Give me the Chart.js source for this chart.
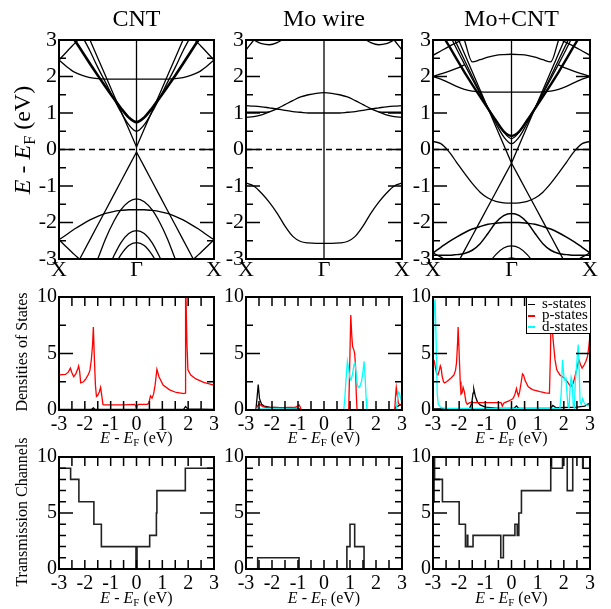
<!DOCTYPE html>
<html>
<head>
<meta charset="utf-8">
<script src="https://cdn.jsdelivr.net/npm/chart.js@4.4.1/dist/chart.umd.min.js"></script>
<style>
  html, body { margin:0; padding:0; background:#fff; }
  body { width:611px; height:609px; position:relative; overflow:hidden;
         font-family:'Liberation Serif','Times New Roman',serif; color:#000; }
  canvas { position:absolute; }
  .t { position:absolute; white-space:nowrap; line-height:1; }
  .c { transform:translateX(-50%); }
  .r { transform:translate(-50%,-50%) rotate(-90deg); }
  sub { font-size:0.68em; vertical-align:-0.28em; line-height:0; }
  .lg { position:absolute; left:526px; top:298px; width:63px; height:35px; background:#fff;
        border-left:1px solid #000; border-bottom:1px solid #000; }
  .lg .ln { position:absolute; left:1px; width:7px; height:1.6px; }
  .lg .tx { position:absolute; left:15px; font-size:15px; line-height:12px; white-space:nowrap; }
</style>
</head>
<body>
<script>
// ---------------- data ----------------
const panelTitles = ['CNT', 'Mo wire', 'Mo+CNT'];
const seriesNames = ['s-states', 'p-states', 'd-states'];
const kGrid = [0,0.05,0.1,0.15,0.2,0.25,0.3,0.35,0.4,0.45,0.5,0.55,0.6,0.65,0.7,0.75,0.8,0.85,0.9,0.95,1];
const bandTickPos = [0, 0.5, 1];
const bandTickLabels = ['X', 'Γ', 'X'];
const bandYTicks = [-3,-2,-1,0,1,2,3];
const energyTicks = [-3,-2,-1,0,1,2,3];
const countTicks = [0,5,10];

// CNT band energies (eV) on kGrid
const cntXUp     = [2.45,2.68,2.9,3.12,3.35,null,null,null,null,null,null,null,null,null,null,null,3.35,3.12,2.9,2.68,2.45];
const cntFlat    = [2.45,2.27,2.12,2.03,1.97,1.94,1.93,1.93,1.93,1.93,1.93,1.93,1.93,1.93,1.93,1.94,1.97,2.03,2.12,2.27,2.45];
const cntThick   = [null,3.33,3.0,2.68,2.35,2.03,1.72,1.42,1.13,0.88,0.75,0.88,1.13,1.42,1.72,2.03,2.35,2.68,3.0,3.33,null];
const cntThin    = [null,null,null,3.1,2.7,2.25,1.84,1.42,1.02,0.68,0.5,0.68,1.02,1.42,1.84,2.25,2.7,3.1,null,null,null];
const cntDiracUp = [null,null,null,3.49,3.0,2.51,2.02,1.53,1.05,0.56,0.07,0.56,1.05,1.53,2.02,2.51,3.0,3.49,null,null,null];
const cntDiracDn = [null,null,-3.27,-2.87,-2.47,-2.07,-1.67,-1.27,-0.87,-0.47,-0.07,-0.47,-0.87,-1.27,-1.67,-2.07,-2.47,-2.87,-3.27,null,null];
const cntV1      = [null,null,null,null,-3.5,-3.0,-2.45,-2.0,-1.65,-1.43,-1.35,-1.43,-1.65,-2.0,-2.45,-3.0,-3.5,null,null,null,null];
const cntV2      = [null,null,null,null,null,null,-3.4,-2.95,-2.55,-2.3,-2.22,-2.3,-2.55,-2.95,-3.4,null,null,null,null,null,null];
const cntV3      = [null,null,null,null,null,null,null,-3.25,-2.88,-2.63,-2.55,-2.63,-2.88,-3.25,null,null,null,null,null,null,null];
const cntArc     = [-2.47,-2.33,-2.18,-2.05,-1.93,-1.83,-1.75,-1.7,-1.67,-1.65,-1.65,-1.65,-1.67,-1.7,-1.75,-1.83,-1.93,-2.05,-2.18,-2.33,-2.47];
const cntXDn     = [-2.47,-2.68,-2.88,-3.08,-3.3,null,null,null,null,null,null,null,null,null,null,null,-3.3,-3.08,-2.88,-2.68,-2.47];

// Mo wire bands
const moLow = [-0.92,-1.0,-1.2,-1.45,-1.75,-2.1,-2.38,-2.52,-2.56,-2.57,-2.57,-2.57,-2.56,-2.52,-2.38,-2.1,-1.75,-1.45,-1.2,-1.0,-0.92];
const moA   = [0.88,0.9,0.95,1.03,1.12,1.23,1.34,1.44,1.5,1.54,1.56,1.54,1.5,1.44,1.34,1.23,1.12,1.03,0.95,0.9,0.88];
const moB   = [1.2,1.19,1.17,1.14,1.11,1.07,1.04,1.02,1.0,1.0,1.0,1.0,1.0,1.02,1.04,1.07,1.11,1.14,1.17,1.19,1.2];
const moC   = [1.02,1.02,1.02,1.03,null,null,null,null,null,null,null,null,null,null,null,null,null,1.03,1.02,1.02,1.02];
const moT1  = [2.73,3.0,3.3,null,null,null,null,null,null,null,null,null,null,null,null,null,null,null,3.3,3.0,2.73];
const moT2  = [null,3.0,2.9,2.87,2.93,3.05,null,null,null,null,null,null,null,null,null,3.05,2.93,2.87,2.9,3.0,null];

// Mo+CNT bands
const mcMo      = [0.22,0.16,-0.05,-0.35,-0.65,-0.93,-1.17,-1.33,-1.42,-1.46,-1.47,-1.46,-1.42,-1.33,-1.17,-0.93,-0.65,-0.35,-0.05,0.16,0.22];
const mcDiracUp = [null,null,null,3.13,2.63,2.13,1.63,1.13,0.63,0.13,-0.37,0.13,0.63,1.13,1.63,2.13,2.63,3.13,null,null,null];
const mcDiracDn = [null,null,null,-3.17,-2.77,-2.37,-1.97,-1.57,-1.17,-0.77,-0.37,-0.77,-1.17,-1.57,-1.97,-2.37,-2.77,-3.17,null,null,null];
const mcP1      = [null,null,3.35,2.9,2.45,2.0,1.56,1.13,0.72,0.35,0.16,0.35,0.72,1.13,1.56,2.0,2.45,2.9,3.35,null,null];
const mcP2      = [null,3.2,2.85,2.48,2.12,1.78,1.45,1.12,0.8,0.5,0.37,0.5,0.8,1.12,1.45,1.78,2.12,2.48,2.85,3.2,null];
const mcP3      = [null,null,3.2,2.76,2.34,1.93,1.53,1.15,0.8,0.48,0.3,0.48,0.8,1.15,1.53,1.93,2.34,2.76,3.2,null,null];
const mcU1      = [null,null,null,null,3.0,2.4,2.46,2.53,2.58,2.6,2.61,2.6,2.58,2.53,2.46,2.4,3.0,null,null,null,null];
const mcU2      = [2.58,2.7,2.82,2.93,3.04,3.15,null,null,null,null,null,null,null,null,null,3.15,3.04,2.93,2.82,2.7,2.58];
const mcU3      = [2.0,1.93,1.83,1.73,1.65,1.6,1.58,1.57,1.57,1.57,1.57,1.57,1.57,1.57,1.58,1.6,1.65,1.73,1.83,1.93,2.0];
const mcU4      = [2.0,2.07,2.14,2.22,2.32,null,null,null,null,null,null,null,null,null,null,null,2.32,2.22,2.14,2.07,2.0];
const mcArc     = [-2.83,-2.68,-2.53,-2.4,-2.28,-2.18,-2.11,-2.05,-2.02,-2.0,-2.0,-2.0,-2.02,-2.05,-2.11,-2.18,-2.28,-2.4,-2.53,-2.68,-2.83];
const mcL2      = [-2.9,-2.9,-2.9,-2.88,-2.85,-2.76,-2.58,-2.3,-2.0,-1.81,-1.75,-1.81,-2.0,-2.3,-2.58,-2.76,-2.85,-2.88,-2.9,-2.9,-2.9];
const mcL3      = [null,null,null,null,null,null,null,-3.15,-2.88,-2.7,-2.64,-2.7,-2.88,-3.15,null,null,null,null,null,null,null];
const mcL4      = [null,null,null,null,null,null,null,null,-3.2,-3.04,-2.97,-3.04,-3.2,null,null,null,null,null,null,null,null];
const mcXDn     = [-2.83,-2.95,-3.08,null,null,null,null,null,null,null,null,null,null,null,null,null,null,null,-3.08,-2.95,-2.83];

// Densities of states: energies (eV) and values
const cntSE = [-3,-1.75,-1.67,-1.6,1.82,1.9,1.98,3];
const cntS  = [0.05,0.05,0.2,0.05,0.05,0.3,0.1,0.05];
const cntPE = [-3,-2.75,-2.64,-2.56,-2.5,-2.43,-2.35,-2.28,-2.24,-2.2,-2.16,-2.05,-1.95,-1.85,-1.8,-1.75,-1.7,-1.67,-1.63,-1.59,-1.55,-1.5,-1.44,-1.39,-1.34,-1.3,-1.27,-0.5,-0.08,-0.03,0,0.03,0.08,0.42,0.48,0.54,0.6,0.66,0.72,0.79,0.87,1.03,1.28,1.54,1.84,1.88,1.9,1.95,1.99,2.1,2.3,2.6,3];
const cntP  = [3.1,3.15,3.35,3.7,3.3,2.95,3.2,3.6,3.9,3.4,2.4,2.5,2.8,3.2,3.55,4.4,5.8,7.35,4.5,2.2,1.2,1.3,1.6,2.0,1.2,0.5,0.45,0.45,0.5,0.4,0.12,0.4,0.5,0.5,0.6,1.25,1.05,1.4,2.2,3.6,2.95,2.2,1.78,1.55,1.45,1.5,12,6,3.55,3.1,2.75,2.45,2.2];

const moSE = [-3,-2.62,-2.57,-2.53,-2.48,-2.4,-2.3,-2.1,-1.5,-1.0,-0.95,-0.9,2.7,2.78,2.85,2.92,3];
const moS  = [0,0,1.2,2.25,1.0,0.5,0.35,0.25,0.18,0.15,0.1,0,0,0.3,0.35,0.45,0.5];
const moPE = [-3,-2.62,-2.55,-2.5,-2.45,-2.35,-2.2,-1.6,-1.1,-1.0,-0.96,-0.92,-0.88,0.95,0.98,1.03,1.07,1.1,1.15,1.18,1.21,1.24,1.27,2.72,2.75,2.78,2.82,2.86,2.92,3];
const moP  = [0,0,0.4,0.55,0.45,0.3,0.22,0.2,0.25,0.35,0.45,0.3,0,0,3,8.4,6.5,5.6,5.3,5.0,4.0,1.5,0,0,1.2,2.0,1.3,0.6,0.45,0.4];
const moDE = [-3,-2.62,-2.58,-2.5,-1.0,-0.9,0.76,0.8,0.85,0.9,0.95,1.0,1.04,1.1,1.15,1.19,1.23,1.28,1.33,1.38,1.45,1.5,1.54,1.58,1.62,1.65,2.78,2.82,2.86,2.9,2.95,3];
const moD  = [0,0,0.1,0.1,0.1,0,0,1.0,2.8,4.3,3.6,2.8,2.65,3.2,4.0,4.15,3.4,2.2,2.0,2.1,2.6,3.4,4.3,3.0,1.0,0,0,0.8,1.6,1.5,1.0,0.6];

const mcSE = [-3,-1.6,-1.52,-1.47,-1.44,-1.38,-1.3,-1.2,-1.0,-0.5,0.1,0.19,0.27,1.45,1.52,1.58,1.7,2.5,2.8,2.9,2.95,3];
const mcS  = [0.1,0.15,0.6,1.5,1.85,1.2,0.7,0.45,0.25,0.15,0.15,0.35,0.15,0.15,0.2,0.4,0.2,0.25,0.35,0.5,0.55,0.6];
const mcPE = [-3,-2.95,-2.91,-2.86,-2.81,-2.76,-2.72,-2.69,-2.65,-2.6,-2.56,-2.48,-2.4,-2.3,-2.2,-2.14,-2.1,-2.06,-2.04,-2.0,-1.96,-1.93,-1.89,-1.85,-1.8,-1.74,-1.69,-1.6,-0.5,-0.4,-0.35,-0.3,-0.26,-0.1,0.05,0.12,0.19,0.23,0.27,0.31,0.36,0.42,0.46,0.52,0.64,0.8,1.09,1.3,1.45,1.49,1.52,1.58,1.66,1.73,1.85,2.04,2.17,2.26,2.36,2.45,2.52,2.58,2.64,2.7,2.78,2.84,2.9,2.95,3];
const mcP  = [4.1,4.3,3.8,3.2,3.1,3.5,3.9,3.7,3.0,2.5,2.4,2.5,2.65,2.85,3.1,3.5,4.2,6.0,7.35,5.0,2.5,1.4,1.5,2.0,1.6,0.7,0.5,0.65,0.65,0.65,0.35,0.6,0.65,0.8,1.0,1.3,1.9,1.5,1.25,1.6,2.3,3.2,3.1,2.6,2.05,1.8,1.63,1.52,1.48,5,10.5,6.5,4.5,3.55,3.1,2.8,2.37,2.07,2.37,3.2,3.9,4.4,4.0,3.7,4.0,4.3,4.7,5.5,6.6];
const mcDE = [-3,-2.96,-2.92,-2.88,-2.84,-2.8,-2.7,-2.5,1.85,1.9,1.95,2.0,2.04,2.08,2.12,2.16,2.2,2.24,2.28,2.32,2.36,2.4,2.44,2.48,2.52,2.55,2.58,2.62,2.66,2.72,2.78,2.85,3];
const mcD  = [2.5,9.0,9.8,6.0,1.5,0.5,0.2,0.15,0.15,1.5,4.45,3.0,2.66,2.8,1.5,0.3,0.2,2.0,2.9,2.5,0.4,0.2,2.5,3.6,5.0,5.8,4.0,0.8,0.5,1.0,0.6,0.45,0.35];

// Transmission channels: step start energies and channel counts
const cntTE = [-3,-2.55,-2.23,-1.65,-1.36,-0.02,0.02,0.51,0.77,0.79,1.89,3];
const cntT  = [9,8,6,4,2,0,2,3,5,7,9,9];
const moTE  = [-3,-2.55,-0.96,0.88,1.0,1.18,1.54,3];
const moT   = [0,1,0,2,4,2,0,0];
const mcTE  = [-3,-2.98,-2.96,-2.94,-2.64,-2.0,-1.76,-1.69,-1.67,-1.47,-0.41,-0.31,0.13,0.22,0.28,0.38,1.5,1.53,1.95,2.13,2.34,2.72,2.74,3];
const mcT   = [10,6,10,8,6,4,2,3,2,3,1,3,4,3,5,7,10,9,10,7,10,9,10,10];

// ---------------- layout / style ----------------
const FONT = "'Liberation Serif','Times New Roman',serif";
const YW = 44, PT = 14, PR = 12;
const COLS = [{l:59, r:214}, {l:246, r:402}, {l:433, r:590}];
const ROWS = [
  {t:40,  b:259, ah:30, fs:22, xpad:-2},
  {t:297, b:410, ah:26, fs:20, xpad:3},
  {t:457, b:569, ah:26, fs:20, xpad:3}
];
const COLORS = {s:'#000000', p:'#ff0000', d:'#00ffff'};

const framePlugin = {
  id: 'frameTicks',
  beforeDatasetsDraw(chart, args, o) {
    if (!o || !o.ref) return;
    const {ctx, chartArea:a, scales:{x, y}} = chart;
    ctx.save();
    ctx.strokeStyle = '#000';
    ctx.lineWidth = 1.3;
    const gx = x.getPixelForValue(bandTickPos[1]);
    ctx.beginPath(); ctx.moveTo(gx, a.top); ctx.lineTo(gx, a.bottom); ctx.stroke();
    const gy = y.getPixelForValue(0);
    ctx.setLineDash([6, 4]);
    ctx.beginPath(); ctx.moveTo(a.left, gy); ctx.lineTo(a.right, gy); ctx.stroke();
    ctx.restore();
  },
  afterDraw(chart, args, o) {
    const {ctx, chartArea:a, scales:{x, y}} = chart;
    ctx.save();
    ctx.strokeStyle = '#000';
    ctx.lineWidth = 1.5;
    ctx.beginPath();
    const yTicks = (step, len, skipStep) => {
      const n = Math.round((y.max - y.min) / step);
      for (let i = 1; i < n; i++) {
        const v = y.min + i * step;
        if (skipStep && Math.abs(v / skipStep - Math.round(v / skipStep)) < 1e-6) continue;
        const p = y.getPixelForValue(v);
        ctx.moveTo(a.left, p); ctx.lineTo(a.left + len, p);
        ctx.moveTo(a.right, p); ctx.lineTo(a.right - len, p);
      }
    };
    if (o.yMinor) yTicks(o.yMinor, o.minorLen, o.yMajor);
    if (o.yMajor) yTicks(o.yMajor, o.majorLen, null);
    if (o.xStep) {
      const n = Math.round((x.max - x.min) / o.xStep);
      for (let i = 1; i < n; i++) {
        const p = x.getPixelForValue(x.min + i * o.xStep);
        ctx.moveTo(p, a.top); ctx.lineTo(p, a.top + o.xLen);
        ctx.moveTo(p, a.bottom); ctx.lineTo(p, a.bottom - o.xLen);
      }
    }
    ctx.stroke();
    ctx.lineWidth = 2;
    ctx.strokeRect(a.left, a.top, a.right - a.left, a.bottom - a.top);
    ctx.restore();
  }
};
Chart.register(framePlugin);

function makeCanvas(row, col) {
  const R = ROWS[row], C = COLS[col];
  const cv = document.createElement('canvas');
  const w = YW + (C.r - C.l) + PR, h = PT + (R.b - R.t) + R.ah;
  cv.width = w; cv.height = h;
  cv.style.left = (C.l - YW) + 'px';
  cv.style.top = (R.t - PT) + 'px';
  cv.style.width = w + 'px'; cv.style.height = h + 'px';
  document.body.appendChild(cv);
  return cv;
}

function options(row, xr, xt, xcb, yr, yt, frame) {
  const R = ROWS[row];
  const zeroPad = s => { s.paddingLeft = 0; s.paddingRight = 0; s.paddingTop = 0; s.paddingBottom = 0; };
  return {
    responsive:false, maintainAspectRatio:false, animation:false, devicePixelRatio:1, events:[],
    layout:{ padding:{left:0, top:PT, right:PR, bottom:0}, autoPadding:false },
    elements:{ line:{capBezierPoints:false}, point:{radius:0, hitRadius:0, hoverRadius:0} },
    plugins:{ legend:{display:false}, tooltip:{enabled:false}, title:{display:false}, frameTicks:frame },
    scales:{
      x:{ type:'linear', position:'bottom', min:xr[0], max:xr[1],
          grid:{display:false, drawTicks:false}, border:{display:false},
          ticks:{ autoSkip:false, maxRotation:0, minRotation:0, padding:R.xpad, color:'#000',
                  font:{family:FONT, size:R.fs}, callback:xcb },
          afterBuildTicks:s => { s.ticks = xt.map(v => ({value:v})); },
          afterFit:s => { s.height = R.ah; zeroPad(s); } },
      y:{ type:'linear', position:'left', min:yr[0], max:yr[1],
          grid:{display:false, drawTicks:false}, border:{display:false},
          ticks:{ autoSkip:false, padding:2, color:'#000', font:{family:FONT, size:R.fs},
                  callback:v => String(v) },
          afterBuildTicks:s => { s.ticks = yt.map(v => ({value:v})); },
          afterFit:s => { s.width = YW; zeroPad(s); } }
    }
  };
}

// ---------- band structures ----------
const bandPanels = [
  [[cntXUp],[cntFlat],[cntThick,2.6],[cntThin],[cntDiracUp,1.3,true],[cntDiracDn,1.3,true],[cntV1],[cntV2],[cntV3],[cntArc],[cntXDn]],
  [[moLow],[moA],[moB],[moC],[moT1],[moT2]],
  [[mcMo],[mcDiracUp,1.3,true],[mcDiracDn,1.3,true],[mcP1],[mcP2,2.4],[mcP3],[mcU1],[mcU2],[mcU3],[mcU4],[mcArc,1.5],[mcL2,1.5],[mcL3],[mcL4],[mcXDn]]
];
bandPanels.forEach((bands, col) => {
  const datasets = bands.map(([vals, w, straight]) => ({
    data: kGrid.map((k, i) => ({x:k, y:vals[i]})),
    borderColor:'#000', borderWidth: w || 1.3, pointRadius:0, fill:false,
    cubicInterpolationMode: straight ? 'default' : 'monotone', tension: 0
  }));
  new Chart(makeCanvas(0, col), {
    type:'line', data:{datasets},
    options: options(0, [0, 1], bandTickPos, (v, i) => bandTickLabels[i], [-3, 3], bandYTicks,
                     {ref:true, yMajor:1, yMinor:0.5, majorLen:14, minorLen:7})
  });
});

// ---------- densities of states ----------
const dosPanels = [
  {s:[cntSE, cntS], p:[cntPE, cntP]},
  {s:[moSE, moS], p:[moPE, moP], d:[moDE, moD]},
  {s:[mcSE, mcS], p:[mcPE, mcP], d:[mcDE, mcD]}
];
dosPanels.forEach((pn, col) => {
  const datasets = [];
  ['d', 'p', 's'].forEach(key => {
    if (!pn[key]) return;
    const [E, D] = pn[key];
    datasets.push({ data: E.map((e, i) => ({x:e, y:D[i]})), borderColor:COLORS[key],
                    borderWidth:1.3, pointRadius:0, fill:false, tension:0 });
  });
  new Chart(makeCanvas(1, col), {
    type:'line', data:{datasets},
    options: options(1, [-3, 3], energyTicks, v => String(v), [0, 10], countTicks,
                     {yMajor:5, yMinor:2.5, majorLen:14, minorLen:7, xStep:0.5, xLen:9})
  });
});

// ---------- transmission ----------
const trPanels = [[cntTE, cntT], [moTE, moT], [mcTE, mcT]];
trPanels.forEach(([E, T], col) => {
  new Chart(makeCanvas(2, col), {
    type:'line',
    data:{datasets:[{ data: E.map((e, i) => ({x:e, y:T[i]})), borderColor:'#222',
                      borderWidth:1.6, pointRadius:0, fill:false, stepped:true }]},
    options: options(2, [-3, 3], energyTicks, v => String(v), [0, 10], countTicks,
                     {yMajor:5, yMinor:1, majorLen:14, minorLen:7, xStep:0.5, xLen:9})
  });
});

// ---------- text ----------
function addText(html, cls, style) {
  const d = document.createElement('div');
  d.className = 't ' + cls;
  d.innerHTML = html;
  Object.assign(d.style, style);
  document.body.appendChild(d);
  return d;
}
const eLabel = '<i>E</i> - <i>E</i><sub>F</sub> (eV)';
panelTitles.forEach((t, col) => {
  const cx = (COLS[col].l + COLS[col].r) / 2;
  addText(t, 'c', {left: cx + 'px', top:'6px', fontSize:'24px'});
  addText(eLabel, 'c', {left: cx + 'px', top:'430px', fontSize:'16px'});
  addText(eLabel, 'c', {left: cx + 'px', top:'590px', fontSize:'16px'});
});
addText(eLabel, 'r', {left:'22px', top:'140px', fontSize:'24px'});
addText('Densities of States', 'r', {left:'22px', top:'352px', fontSize:'16px'});
addText('Transmission Channels', 'r', {left:'22px', top:'512px', fontSize:'16px'});

// legend (white box in the Mo+CNT DOS panel)
const lg = document.createElement('div');
lg.className = 'lg';
['s', 'p', 'd'].forEach((key, i) => {
  const cy = 6.7 + i * 11.2;
  const ln = document.createElement('div');
  ln.className = 'ln';
  ln.style.top = (cy - 0.8) + 'px';
  ln.style.background = COLORS[key];
  const tx = document.createElement('div');
  tx.className = 'tx';
  tx.style.top = (cy - 7.6) + 'px';
  tx.textContent = seriesNames[i];
  lg.appendChild(ln); lg.appendChild(tx);
});
document.body.appendChild(lg);
</script>
</body>
</html>
